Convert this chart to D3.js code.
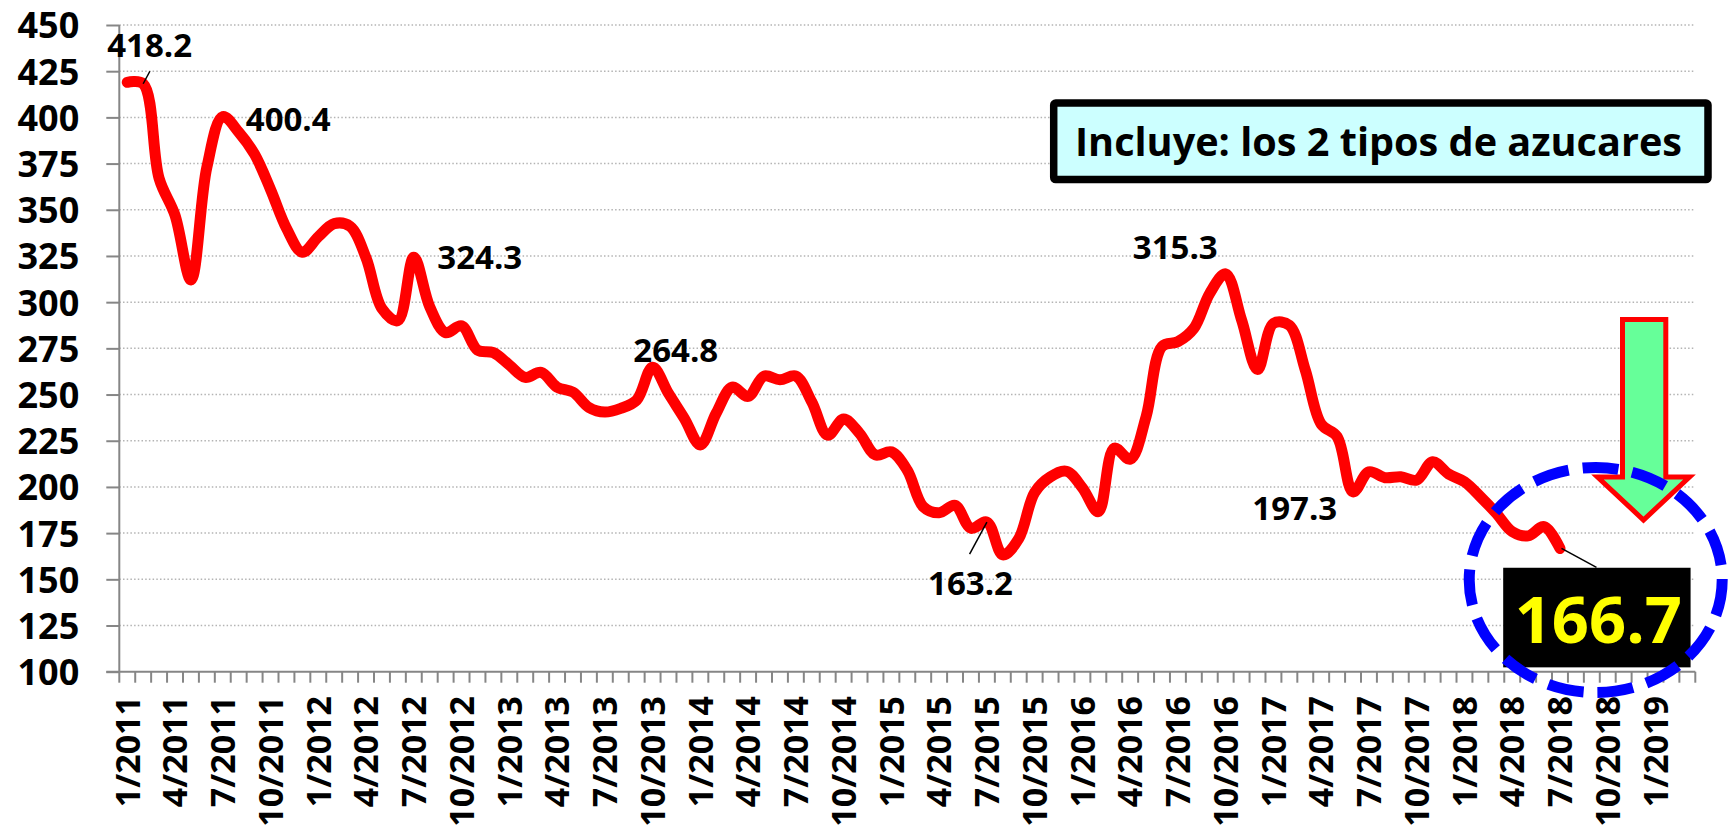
<!DOCTYPE html>
<html>
<head>
<meta charset="utf-8">
<script src="https://cdn.jsdelivr.net/npm/d3@7"></script>
<style>
  html, body { margin: 0; padding: 0; background: #ffffff; }
  svg { display: block; }
  text { font-family: "Open Sans", Lato, sans-serif; font-weight: 700; }
</style>
</head>
<body>
<svg id="chart" width="1735" height="825"></svg>
<script>
// ---- categories (monthly, 1/2011 .. 3/2019) ----
const months = [
  "1/2011","2/2011","3/2011","4/2011","5/2011","6/2011","7/2011","8/2011","9/2011","10/2011","11/2011","12/2011",
  "1/2012","2/2012","3/2012","4/2012","5/2012","6/2012","7/2012","8/2012","9/2012","10/2012","11/2012","12/2012",
  "1/2013","2/2013","3/2013","4/2013","5/2013","6/2013","7/2013","8/2013","9/2013","10/2013","11/2013","12/2013",
  "1/2014","2/2014","3/2014","4/2014","5/2014","6/2014","7/2014","8/2014","9/2014","10/2014","11/2014","12/2014",
  "1/2015","2/2015","3/2015","4/2015","5/2015","6/2015","7/2015","8/2015","9/2015","10/2015","11/2015","12/2015",
  "1/2016","2/2016","3/2016","4/2016","5/2016","6/2016","7/2016","8/2016","9/2016","10/2016","11/2016","12/2016",
  "1/2017","2/2017","3/2017","4/2017","5/2017","6/2017","7/2017","8/2017","9/2017","10/2017","11/2017","12/2017",
  "1/2018","2/2018","3/2018","4/2018","5/2018","6/2018","7/2018","8/2018","9/2018","10/2018","11/2018","12/2018",
  "1/2019","2/2019","3/2019"
];

// ---- series values (1/2011 .. 7/2018) ----
const values = [
  419.0, 418.2, 367.0, 347.0, 312.0, 373.0, 400.4, 392.0, 380.0, 361.0, 340.0, 327.0,
  335.4, 342.5, 341.0, 324.0, 296.5, 290.0, 324.3, 297.5, 283.5, 287.2, 274.1, 272.7,
  266.0, 259.3, 262.0, 254.0, 251.3, 243.0, 240.5, 242.5, 247.0, 264.8, 250.6, 237.0,
  222.7, 240.0, 254.0, 249.0, 260.0, 258.0, 260.0, 246.0, 228.0, 236.7, 229.0, 217.3,
  219.0, 209.0, 189.3, 186.0, 190.0, 177.6, 181.0, 163.2, 172.0, 197.0, 205.5, 208.5,
  199.5, 186.6, 221.0, 215.0, 238.0, 276.0, 278.6, 285.8, 304.8, 315.3, 290.3, 263.5,
  288.5, 287.5, 263.3, 234.0, 227.2, 197.3, 208.2, 205.0, 205.5, 203.7, 213.6, 207.0,
  202.8, 194.7, 185.7, 175.8, 173.5, 178.5, 166.7
];

// ---- axis tick labels ----
const xTickLabels = ["1/2011","4/2011","7/2011","10/2011","1/2012","4/2012","7/2012","10/2012",
  "1/2013","4/2013","7/2013","10/2013","1/2014","4/2014","7/2014","10/2014",
  "1/2015","4/2015","7/2015","10/2015","1/2016","4/2016","7/2016","10/2016",
  "1/2017","4/2017","7/2017","10/2017","1/2018","4/2018","7/2018","10/2018","1/2019"];
const yTicks = [100,125,150,175,200,225,250,275,300,325,350,375,400,425,450];

// ---- annotations (which point, label text) ----
const pointLabels = [
  { month: "2/2011",  text: "418.2" },
  { month: "7/2011",  text: "400.4" },
  { month: "7/2012",  text: "324.3" },
  { month: "10/2013", text: "264.8" },
  { month: "10/2016", text: "315.3" },
  { month: "7/2015",  text: "163.2" },
  { month: "6/2017",  text: "197.3" }
];
const lastLabel = { month: "7/2018", text: "166.7" };
const noteText = "Incluye: los 2 tipos de azucares";

// ------------------------------------------------------------
const svg = d3.select("#chart");
const plot = { left: 119.3, right: 1695.3, top: 25, bottom: 671.7 };

const x = d3.scaleBand().domain(months).range([plot.left, plot.right]).padding(0);
const xc = m => x(m) + x.bandwidth() / 2;
const y = d3.scaleLinear().domain([100, 450]).range([plot.bottom, plot.top]);
const valueOf = m => values[months.indexOf(m)];

// gridlines
svg.append("g").selectAll("line").data(yTicks.filter(t => t > 100)).join("line")
  .attr("x1", plot.left).attr("x2", plot.right)
  .attr("y1", d => y(d)).attr("y2", d => y(d))
  .attr("stroke", "#b4b4b4").attr("stroke-width", 1.5)
  .attr("stroke-dasharray", "1.5,2.2");

// y axis
const yAxis = svg.append("g").attr("transform", `translate(${plot.left},0)`)
  .call(d3.axisLeft(y).tickValues(yTicks).tickSize(13).tickPadding(27).tickFormat(d3.format("d")));
yAxis.select(".domain").remove();
yAxis.selectAll(".tick line").attr("stroke", "#868686").attr("stroke-width", 2);
yAxis.selectAll(".tick text").attr("font-size", 36).attr("fill", "#000")
  .attr("font-family", "Open Sans").attr("font-weight", 700).attr("dy", "0.36em");
svg.append("line").attr("x1", plot.left).attr("x2", plot.left)
  .attr("y1", plot.top).attr("y2", plot.bottom)
  .attr("stroke", "#868686").attr("stroke-width", 2);

// x axis line + ticks at category boundaries
svg.append("line").attr("x1", plot.left - 13).attr("x2", plot.right)
  .attr("y1", plot.bottom).attr("y2", plot.bottom)
  .attr("stroke", "#868686").attr("stroke-width", 2);
const bounds = months.map(m => x(m)).concat([x(months[months.length - 1]) + x.bandwidth()]);
svg.append("g").selectAll("line").data(bounds).join("line")
  .attr("x1", d => d).attr("x2", d => d)
  .attr("y1", plot.bottom).attr("y2", plot.bottom + 11)
  .attr("stroke", "#868686").attr("stroke-width", 2);

// x tick labels (rotated)
svg.append("g").selectAll("text").data(xTickLabels).join("text")
  .attr("transform", d => `translate(${xc(d)},${696}) rotate(-90)`)
  .attr("text-anchor", "end").attr("dy", "0.36em")
  .attr("font-size", 34).attr("fill", "#000")
  .text(d => d);

// the series line
const line = d3.line()
  .x((d, i) => xc(months[i]))
  .y(d => y(d))
  .curve(d3.curveCatmullRom.alpha(0.5));
svg.append("path").datum(values)
  .attr("d", line)
  .attr("fill", "none").attr("stroke", "#ff0000")
  .attr("stroke-width", 11).attr("stroke-linejoin", "round").attr("stroke-linecap", "round");

// point labels
const labelOffsets = {
  "418.2": { dx: -36, dy: -26.5, anchor: "start", leader: [[0, 0], [6.7, -12.5]] },
  "400.4": { dx: 23, dy: 14, anchor: "start" },
  "324.3": { dx: 23.5, dy: 12, anchor: "start" },
  "264.8": { dx: -19.3, dy: -5.5, anchor: "start" },
  "315.3": { dx: -8, dy: -14.6, anchor: "end" },
  "163.2": { dx: -58.8, dy: 72.6, anchor: "start", leader: [[0, 0], [-17.3, 32]] },
  "197.3": { dx: -15.8, dy: 27.6, anchor: "end" }
};
pointLabels.forEach(p => {
  const px = xc(p.month), py = y(valueOf(p.month));
  const o = labelOffsets[p.text];
  if (o.leader) {
    svg.append("line")
      .attr("x1", px + o.leader[0][0]).attr("y1", py + o.leader[0][1])
      .attr("x2", px + o.leader[1][0]).attr("y2", py + o.leader[1][1])
      .attr("stroke", "#000").attr("stroke-width", 1.5);
  }
  svg.append("text").attr("x", px + o.dx).attr("y", py + o.dy)
    .attr("text-anchor", o.anchor).attr("font-size", 33).attr("fill", "#000")
    .text(p.text);
});

// last value call-out
{
  const px = xc(lastLabel.month), py = y(valueOf(lastLabel.month));
  svg.append("line").attr("x1", px + 1.5).attr("y1", py).attr("x2", px + 36.5).attr("y2", py + 19)
    .attr("stroke", "#000").attr("stroke-width", 1.5);
  svg.append("rect").attr("x", px - 56.8).attr("y", py + 19.3).attr("width", 187.4).attr("height", 99.6)
    .attr("fill", "#000");
  svg.append("text").attr("x", px + 38.3).attr("y", py + 95)
    .attr("text-anchor", "middle").attr("font-size", 65).attr("fill", "#ffff00")
    .text(lastLabel.text);
}

// note box
svg.append("rect").attr("x", 1053.7).attr("y", 103).attr("width", 654.3).attr("height", 76.6)
  .attr("rx", 2).attr("fill", "#ccffff").attr("stroke", "#000").attr("stroke-width", 7.5);
svg.append("text").attr("x", 1075).attr("y", 156).attr("font-size", 40).attr("fill", "#000")
  .attr("textLength", 607).attr("lengthAdjust", "spacingAndGlyphs")
  .text(noteText);

// green down arrow
svg.append("polygon")
  .attr("points", [[1622.5, 319.5], [1665.8, 319.5], [1665.8, 477], [1689.5, 477],
                   [1643.5, 520], [1597.5, 477], [1622.5, 477]].map(p => p.join(",")).join(" "))
  .attr("fill", "#66ff99").attr("stroke", "#ff0000").attr("stroke-width", 5)
  .attr("stroke-linejoin", "miter");

// blue dashed ellipse
svg.append("ellipse").attr("cx", 1595.7).attr("cy", 580).attr("rx", 126.5).attr("ry", 112.5)
  .attr("fill", "none").attr("stroke", "#0000ff").attr("stroke-width", 11)
  .attr("stroke-dasharray", "36,14");
</script>
</body>
</html>
